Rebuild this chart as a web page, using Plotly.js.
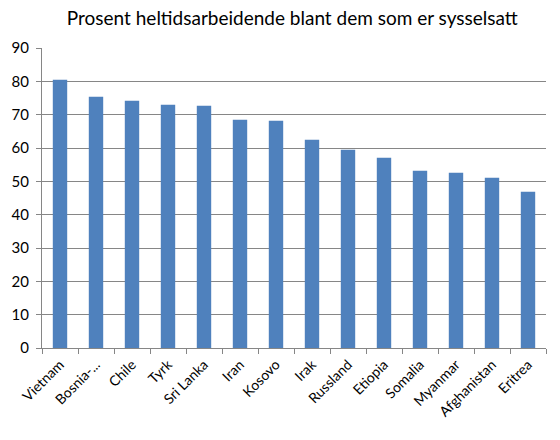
<!DOCTYPE html>
<html><head><meta charset="utf-8">
<script src="https://cdn.plot.ly/plotly-3.0.1.min.js"></script>
<style>body{margin:0;background:#fff}#c{width:560px;height:440px}</style>
</head><body><div id="c"></div>
<script>
var categories = ["Vietnam","Bosnia-...","Chile","Tyrk","Sri Lanka","Iran","Kosovo","Irak","Russland","Etiopia","Somalia","Myanmar","Afghanistan","Eritrea"];
var values = [80.5, 75.4, 74.2, 73.0, 72.7, 68.5, 68.2, 62.5, 59.5, 57.1, 53.2, 52.6, 51.1, 46.9];
var yTicks = [0,10,20,30,40,50,60,70,80,90];
var titleText = "Prosent heltidsarbeidende blant dem som er sysselsatt";

var font = "Lato, 'Open Sans', sans-serif";
Plotly.newPlot('c', [{
  type: 'bar', x: categories, y: values,
  marker: {color: '#4F81BD'}, hoverinfo: 'none'
}], {
  width: 560, height: 440,
  margin: {l: 42, r: 14, t: 48, b: 92},
  paper_bgcolor: '#fff', plot_bgcolor: '#fff',
  bargap: 0.6, showlegend: false,
  title: {text: titleText, font: {family: font, size: 19, color: '#000'}, x: 0.522, xanchor: 'center', y: 0.958, yanchor: 'middle'},
  xaxis: {tickangle: -45, tickfont: {family: font, size: 14, color: '#000'},
    showline: true, linecolor: '#868686', linewidth: 1,
    ticks: 'outside', ticklen: 5, tickcolor: '#868686', tickson: 'boundaries',
    ticklabelstandoff: 2,
    showgrid: false, fixedrange: true},
  yaxis: {range: [0, 90], tickvals: yTicks, tickfont: {family: font, size: 15, color: '#000'},
    showline: true, linecolor: '#868686', linewidth: 1,
    ticks: 'outside', ticklen: 5, tickcolor: '#868686', ticklabelstandoff: 4,
    showgrid: true, gridcolor: '#868686', gridwidth: 1, zeroline: false, fixedrange: true}
}, {staticPlot: true});
</script></body></html>
